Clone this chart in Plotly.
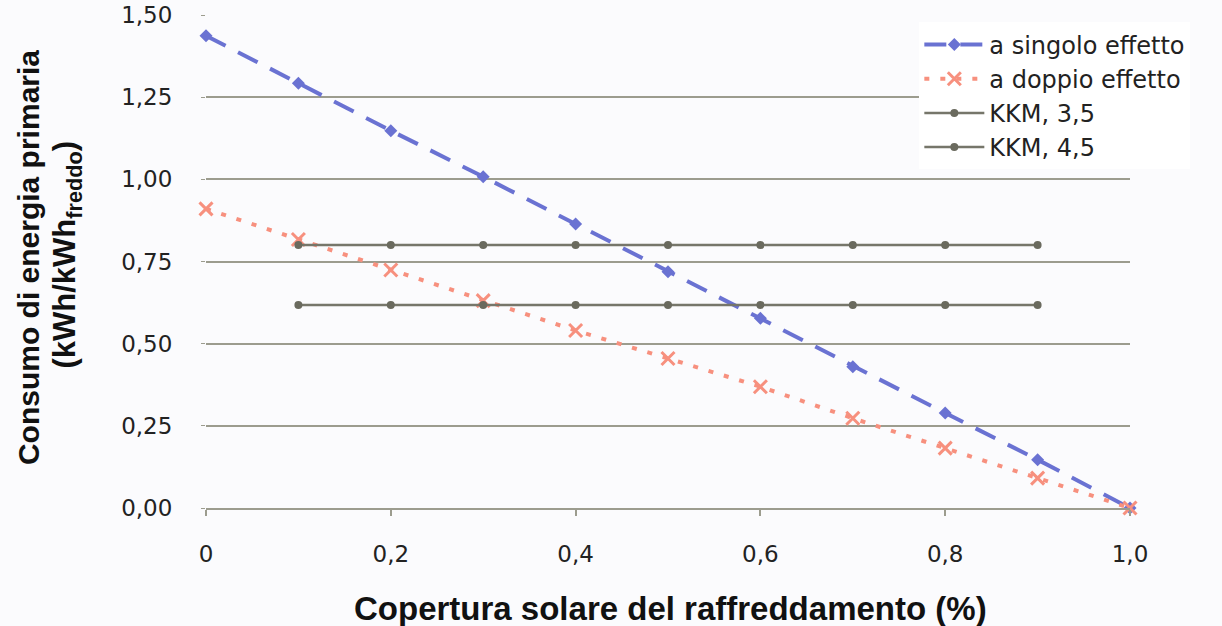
import plotly.graph_objects as go

# ---- data ----
x_vals = [0, 0.1, 0.2, 0.3, 0.4, 0.5, 0.6, 0.7, 0.8, 0.9, 1.0]
singolo = [1.437, 1.292, 1.148, 1.008, 0.864, 0.719, 0.577, 0.430, 0.289, 0.147, 0.0]
doppio = [0.910, 0.817, 0.724, 0.631, 0.540, 0.455, 0.369, 0.273, 0.182, 0.091, 0.0]
kkm_x = [0.1, 0.2, 0.3, 0.4, 0.5, 0.6, 0.7, 0.8, 0.9]
kkm35 = [0.800, 0.800, 0.800, 0.800, 0.800, 0.800, 0.800, 0.800, 0.800]
kkm45 = [0.618, 0.618, 0.618, 0.618, 0.618, 0.618, 0.618, 0.618, 0.618]

x_tickvals = [0, 0.2, 0.4, 0.6, 0.8, 1.0]
x_ticktext = ["0", "0,2", "0,4", "0,6", "0,8", "1,0"]
y_tickvals = [0, 0.25, 0.5, 0.75, 1.0, 1.25, 1.5]
y_ticktext = ["0,00", "0,25", "0,50", "0,75", "1,00", "1,25", "1,50"]

names = ["a singolo effetto", "a doppio effetto", "KKM, 3,5", "KKM, 4,5"]

TICK_FONT = "DejaVu Sans, Liberation Sans, Arial, sans-serif"
TITLE_FONT = "Liberation Sans, Arial, sans-serif"
GRID = "#9c9c8e"

fig = go.Figure()
fig.add_trace(go.Scatter(
    x=x_vals, y=singolo, name=names[0], mode="lines+markers", legendgroup="a",
    line=dict(color="#6a72d2", width=4, dash="22px,14px"),
    marker=dict(symbol="diamond", size=10, color="#6a72d2"),
    cliponaxis=False))
fig.add_trace(go.Scatter(
    x=x_vals, y=doppio, name=names[1], mode="lines+markers", legendgroup="b",
    line=dict(color="#f7907e", width=4, dash="5px,11px"),
    marker=dict(symbol="x-thin", size=13, color="#f7907e",
                line=dict(color="#f7907e", width=3)),
    cliponaxis=False))
fig.add_trace(go.Scatter(
    x=kkm_x, y=kkm35, name=names[2], mode="lines+markers", legendgroup="c",
    line=dict(color="#76766a", width=2.5),
    marker=dict(symbol="circle", size=8, color="#6a6a5e"),
    cliponaxis=False))
fig.add_trace(go.Scatter(
    x=kkm_x, y=kkm45, name=names[3], mode="lines+markers", legendgroup="d",
    line=dict(color="#76766a", width=2.5),
    marker=dict(symbol="circle", size=8, color="#6a6a5e"),
    cliponaxis=False))

fig.update_layout(
    width=1222, height=626,
    margin=dict(l=206, r=92, t=15, b=118, autoexpand=False),
    paper_bgcolor="#fbfbfd", plot_bgcolor="#fbfbfd",
    showlegend=True,
    legend=dict(x=0.772, y=0.985, xanchor="left", yanchor="top",
                bgcolor="#ffffff", borderwidth=0,
                font=dict(family=TICK_FONT, size=24, color="#222222"),
                itemwidth=60, tracegroupgap=0),
    xaxis=dict(range=[0, 1.0], tickvals=x_tickvals, ticktext=x_ticktext,
               automargin=False,
               showgrid=False, zeroline=False, showline=True, linecolor=GRID,
               linewidth=2, ticks="outside", ticklen=6, tickcolor=GRID,
               tickwidth=1.5, ticklabelstandoff=18,
               tickfont=dict(family=TICK_FONT, size=23, color="#222222")),
    yaxis=dict(range=[0, 1.5], tickvals=y_tickvals, ticktext=y_ticktext,
               automargin=False,
               showgrid=True, gridcolor=GRID, gridwidth=2, zeroline=False,
               showline=False, ticks="outside", ticklen=4, tickcolor=GRID,
               ticklabelstandoff=24,
               tickfont=dict(family=TICK_FONT, size=23, color="#222222")),
    annotations=[
        dict(text="<b>Copertura solare del raffreddamento (%)</b>",
             xref="paper", yref="paper", x=0.503, y=-0.204,
             xanchor="center", yanchor="middle", showarrow=False,
             font=dict(family=TITLE_FONT, size=33, color="#111111")),
        dict(text="<b>Consumo di energia primaria</b>",
             xref="paper", yref="paper", x=-0.1926, y=0.507,
             xanchor="center", yanchor="middle", showarrow=False, textangle=-90,
             font=dict(family=TITLE_FONT, size=30, color="#111111")),
        dict(text="<b>(kWh/kWh<sub>freddo</sub>)</b>",
             xref="paper", yref="paper", x=-0.150, y=0.515,
             xanchor="center", yanchor="middle", showarrow=False, textangle=-90,
             font=dict(family=TITLE_FONT, size=31, color="#111111")),
    ],
)

fig.write_html(
    "out.html",
    config={"displayModeBar": False},
    post_script="document.body.style.margin='0';document.body.style.overflow='hidden';",
)
